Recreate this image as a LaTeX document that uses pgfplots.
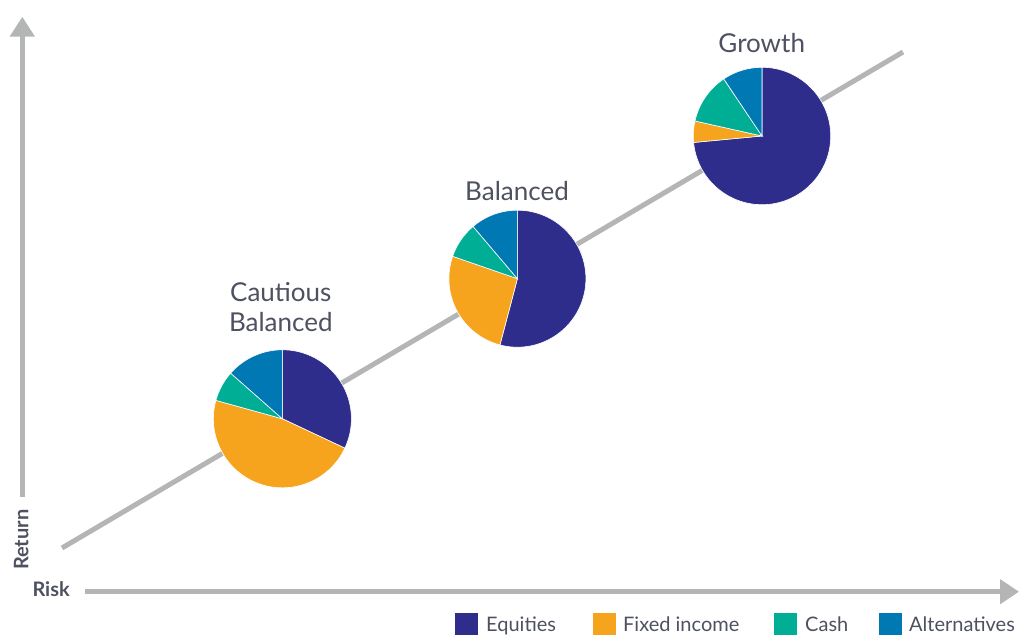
\documentclass[border=0pt]{standalone}
\usepackage{fontspec}
\setmainfont{Lato}
\usepackage{pgfplots}
\pgfplotsset{compat=1.18}
\usetikzlibrary{arrows.meta}
\definecolor{cEq}{HTML}{2E2D8C}
\definecolor{cFi}{HTML}{F6A31E}
\definecolor{cCa}{HTML}{00AE96}
\definecolor{cAl}{HTML}{0078B4}
\definecolor{cLine}{HTML}{B4B6B5}
\definecolor{cTxt}{HTML}{4D5160}
% pie: cx, cy, r, equities, fixed income, cash, alternatives (percent)
\newcommand{\pie}[7]{%
  \fill[cEq,draw=white,line width=0.6pt] (axis cs:#1,#2) -- ++(90:#3pt) arc[start angle=90, end angle={90-3.6*(#4)}, radius=#3pt] -- cycle;
  \fill[cFi,draw=white,line width=0.6pt] (axis cs:#1,#2) -- ++({90-3.6*(#4)}:#3pt) arc[start angle={90-3.6*(#4)}, end angle={90-3.6*(#4+#5)}, radius=#3pt] -- cycle;
  \fill[cCa,draw=white,line width=0.6pt] (axis cs:#1,#2) -- ++({90-3.6*(#4+#5)}:#3pt) arc[start angle={90-3.6*(#4+#5)}, end angle={90-3.6*(#4+#5+#6)}, radius=#3pt] -- cycle;
  \fill[cAl,draw=white,line width=0.6pt] (axis cs:#1,#2) -- ++({90-3.6*(#4+#5+#6)}:#3pt) arc[start angle={90-3.6*(#4+#5+#6)}, end angle={90-3.6*(#4+#5+#6+#7)}, radius=#3pt] -- cycle;
}
\begin{document}
\begin{tikzpicture}
\begin{axis}[x=1pt, y=1pt, xmin=0, xmax=1019, ymin=0, ymax=635,
  hide axis, clip=false, at={(0,0)}, anchor=south west]
  % axes arrows
  \draw[cLine, line width=5pt, -{Triangle[length=20pt,width=24pt]}] (axis cs:22.3,138) -- (axis cs:22.3,618.3);
  \draw[cLine, line width=5pt, -{Triangle[length=19pt,width=24pt]}] (axis cs:85,43.3) -- (axis cs:1019,43.3);
  % trend line
  \addplot[cLine, line width=5pt, no markers] coordinates {(62,87) (903,583)};
  % pies
  \pie{282.4}{216.2}{69}{32}{47.3}{7.2}{13.5}
  \pie{517.4}{356.3}{68.5}{54.1}{26.2}{8.5}{11.2}
  \pie{762}{499}{68.7}{73.5}{5}{12.1}{9.4}
  % labels
  \node[anchor=base, text=cTxt, font=\fontsize{26}{31}\selectfont, inner sep=0pt] at (axis cs:280.8,333.3) {Cautious};
  \node[anchor=base, text=cTxt, font=\fontsize{26}{31}\selectfont, inner sep=0pt] at (axis cs:280.8,303.3) {Balanced};
  \node[anchor=base, text=cTxt, font=\fontsize{26}{31}\selectfont, inner sep=0pt] at (axis cs:517,434) {Balanced};
  \node[anchor=base, text=cTxt, font=\fontsize{26}{31}\selectfont, inner sep=0pt] at (axis cs:761.7,582.3) {Growth};
  \node[anchor=base west, text=cTxt, font=\fontsize{20}{24}\selectfont\bfseries, inner sep=0pt] at (axis cs:32.3,38.3) {Risk};
  \node[anchor=base west, rotate=90, text=cTxt, font=\fontsize{20}{24}\selectfont\bfseries, inner sep=0pt] at (axis cs:28.3,65) {Return};
  % legend
  \fill[cEq] (axis cs:455,0) rectangle (axis cs:478,22);
  \node[anchor=base west, text=cTxt, font=\fontsize{20}{24}\selectfont, inner sep=0pt] at (axis cs:486,4) {Equities};
  \fill[cFi] (axis cs:593,0) rectangle (axis cs:616,22);
  \node[anchor=base west, text=cTxt, font=\fontsize{20}{24}\selectfont, inner sep=0pt] at (axis cs:623,4) {Fixed income};
  \fill[cCa] (axis cs:774,0) rectangle (axis cs:797,22);
  \node[anchor=base west, text=cTxt, font=\fontsize{20}{24}\selectfont, inner sep=0pt] at (axis cs:805,4) {Cash};
  \fill[cAl] (axis cs:879,0) rectangle (axis cs:902,22);
  \node[anchor=base west, text=cTxt, font=\fontsize{20}{24}\selectfont, inner sep=0pt] at (axis cs:909,4) {Alternatives};
\end{axis}
\pgfresetboundingbox
\useasboundingbox (0,0) rectangle (1019pt,635pt);
\end{tikzpicture}
\end{document}
